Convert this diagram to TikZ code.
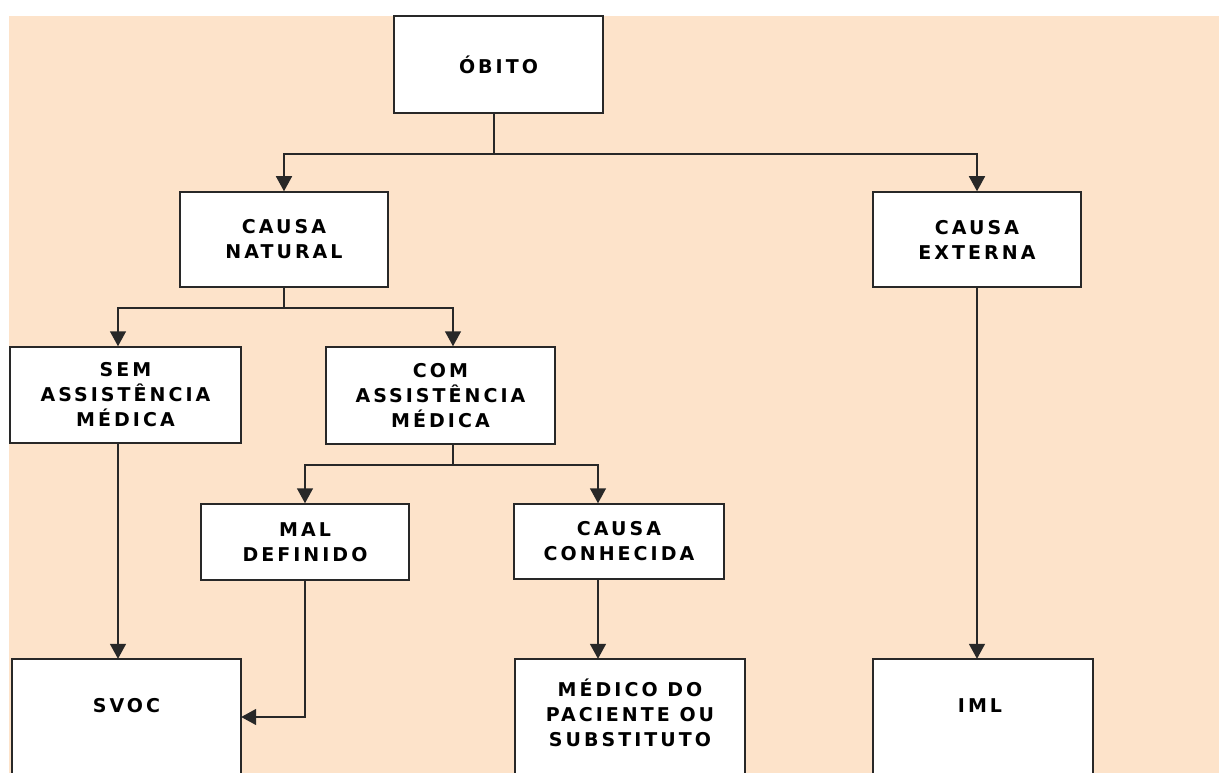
\documentclass[tikz,border=0pt]{standalone}
\usepackage{fontspec}
\usetikzlibrary{arrows.meta}
\newfontfamily\lbl[LetterSpace=16]{DejaVu Sans}
\definecolor{peach}{RGB}{253,227,202}
\definecolor{edge}{RGB}{40,40,40}
\tikzset{
  box/.style={draw=edge, line width=1.5pt, fill=white, align=center, inner sep=0pt,
    font={\lbl\bfseries\fontsize{19}{25}\selectfont}},
  opentext/.style={align=center, inner sep=0pt,
    font={\lbl\bfseries\fontsize{19}{25}\selectfont}},
  conn/.style={draw=edge, line width=1.5pt},
  arr/.style={conn, -{Triangle[length=15pt,width=16pt]}}
}
\begin{document}
\begin{tikzpicture}[x=1pt,y=-1pt]
\useasboundingbox (0,0) rectangle (1219,773);
\clip (0,0) rectangle (1219,773);
\fill[peach] (9,16) rectangle (1219,773);

% boxes
\node[box, minimum width=209pt, minimum height=97pt] (obito) at (498.5,64.5) {ÓBITO};
\node[box, minimum width=208pt, minimum height=95pt] (natural) at (284,239.5) {CAUSA\\NATURAL};
\node[box, minimum width=208pt, minimum height=95pt] (externa) at (977,239.5) {CAUSA\\EXTERNA};
\node[box, minimum width=231pt, minimum height=96pt] (sem) at (125.5,395) {SEM\\ASSISTÊNCIA\\MÉDICA};
\node[box, minimum width=229pt, minimum height=97pt] (com) at (440.5,395.5) {COM\\ASSISTÊNCIA\\MÉDICA};
\node[box, minimum width=208pt, minimum height=76pt] (mal) at (305,542) {MAL\\DEFINIDO};
\node[box, minimum width=210pt, minimum height=75pt] (conh) at (619,541.5) {CAUSA\\CONHECIDA};

% bottom boxes (continue past the lower edge)
\fill[white] (12,659) rectangle (241,800);
\draw[conn] (12,800) -- (12,659) -- (241,659) -- (241,800);
\node[opentext, minimum width=229pt, minimum height=94pt] (svoc) at (126.5,706) {SVOC};
\fill[white] (515,659) rectangle (745,800);
\draw[conn] (515,800) -- (515,659) -- (745,659) -- (745,800);
\node[opentext, minimum width=230pt, minimum height=108pt] (medico) at (630,713) {MÉDICO DO\\PACIENTE OU\\SUBSTITUTO};
\fill[white] (873,659) rectangle (1093,800);
\draw[conn] (873,800) -- (873,659) -- (1093,659) -- (1093,800);
\node[opentext, minimum width=220pt, minimum height=94pt] (iml) at (980,706) {IML};

% connection points
\coordinate (obout) at ([xshift=-4.5pt]obito.south);
\coordinate (semout) at ([xshift=-7.5pt]sem.south);
\coordinate (comin) at ([xshift=12.5pt]com.north);
\coordinate (comout) at ([xshift=12.5pt]com.south);
\coordinate (conhin) at ([xshift=-21pt]conh.north);
\coordinate (conhout) at ([xshift=-21pt]conh.south);
\coordinate (semin) at ([xshift=-7.5pt]sem.north);
\coordinate (svocin) at ([yshift=-11pt]svoc.east);

% connectors
\draw[arr] (obout) -- (obout |- 0,154) -| (natural.north);
\draw[arr] (obout) -- (obout |- 0,154) -| (externa.north);
\draw[arr] (natural.south) -- (natural.south |- 0,308) -| (semin);
\draw[arr] (natural.south) -- (natural.south |- 0,308) -| (comin);
\draw[arr] (comout) -- (comout |- 0,465) -| (mal.north);
\draw[arr] (comout) -- (comout |- 0,465) -| (conhin);
\draw[arr] (semout) -- (semout |- svoc.north);
\draw[arr] (mal.south) |- (svocin);
\draw[arr] (conhout) -- (conhout |- medico.north);
\draw[arr] (externa.south) -- (externa.south |- iml.north);
\end{tikzpicture}
\end{document}
